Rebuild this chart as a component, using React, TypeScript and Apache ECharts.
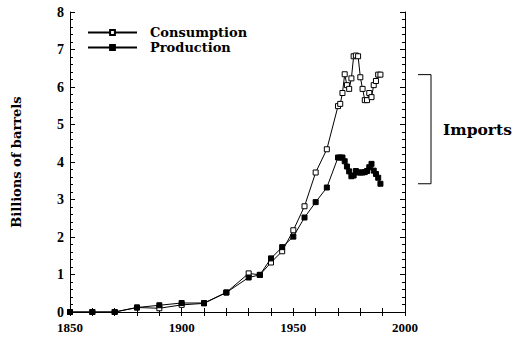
import React, { useEffect, useRef } from "react";
import * as echarts from "echarts";

const years = [
  1850, 1860, 1870, 1880, 1890, 1900, 1910, 1920, 1930, 1935, 1940, 1945, 1950, 1955, 1960, 1965,
  1970, 1971, 1972, 1973, 1974, 1975, 1976, 1977, 1978, 1979, 1980, 1981, 1982, 1983, 1984, 1985,
  1986, 1987, 1988, 1989,
];
const consumption = [
  0, 0, 0, 0.12, 0.1, 0.19, 0.23, 0.52, 1.03, 0.99, 1.32, 1.62, 2.18, 2.82, 3.72, 4.34,
  5.49, 5.55, 5.84, 6.34, 6.05, 5.95, 6.23, 6.82, 6.84, 6.82, 6.26, 5.95, 5.65, 5.65, 5.84, 5.73,
  6.05, 6.16, 6.33, 6.33,
];
const production = [
  0, 0, 0, 0.12, 0.18, 0.24, 0.24, 0.52, 0.92, 0.99, 1.43, 1.73, 2.01, 2.52, 2.93, 3.32,
  4.12, 4.12, 4.12, 4.02, 3.88, 3.75, 3.62, 3.64, 3.76, 3.72, 3.72, 3.72, 3.73, 3.76, 3.86, 3.95,
  3.77, 3.68, 3.58, 3.42,
];
const seriesNames = ["Consumption", "Production"];
const xTickLabels = [1850, 1900, 1950, 2000];
const yTickLabels = [0, 1, 2, 3, 4, 5, 6, 7, 8];
const yTitle = "Billions of barrels";
const bracketLabel = "Imports";

const SERIF = "'DejaVu Serif', serif";
const TICKFONT = "'Liberation Serif', serif";

export default function App() {
  const ref = useRef<HTMLDivElement>(null);
  useEffect(() => {
    document.body.style.margin = "0";
    if (!ref.current) return;
    const chart = echarts.init(ref.current, undefined, { renderer: "svg" });
    const axisLine = { show: true, lineStyle: { color: "#000", width: 1 } };
    const xBase = {
      type: "value" as const,
      min: 1850,
      max: 2000,
      interval: 10,
      axisLine,
      axisTick: { show: true, inside: true, length: 4, lineStyle: { color: "#000" } },
      splitLine: { show: false },
    };
    const yBase = {
      type: "value" as const,
      min: 0,
      max: 8,
      interval: 1,
      axisLine,
      axisTick: { show: true, inside: true, length: 5, lineStyle: { color: "#000" } },
      minorTick: { show: true, splitNumber: 5, length: 3, lineStyle: { color: "#000" } },
      splitLine: { show: false },
      minorSplitLine: { show: false },
    };
    const mk = (vals: number[]) => years.map((y, i) => [y, vals[i]]);
    chart.setOption({
      animation: false,
      grid: { left: 70, right: 115, top: 12, bottom: 40, containLabel: false },
      legend: {
        orient: "vertical",
        left: 87,
        top: 25,
        padding: 0,
        itemWidth: 49,
        itemHeight: 6,
        itemGap: 0,
        data: seriesNames,
        textStyle: {
          fontFamily: SERIF,
          fontWeight: "bold",
          fontSize: 13,
          color: "#000",
          lineHeight: 15,
          padding: [0, 0, 0, 8],
        },
      },
      xAxis: [
        {
          ...xBase,
          position: "bottom",
          axisLabel: {
            show: true,
            margin: 9,
            formatter: (v: number) => (xTickLabels.includes(v) ? String(v) : ""),
            fontFamily: TICKFONT,
            fontWeight: "bold",
            fontSize: 13,
            color: "#000",
          },
        },
        { ...xBase, position: "top", axisLabel: { show: false } },
      ],
      yAxis: [
        {
          ...yBase,
          position: "left",
          name: yTitle,
          nameLocation: "middle",
          nameGap: 47,
          nameRotate: 90,
          nameTextStyle: { fontFamily: SERIF, fontWeight: "bold", fontSize: 13, color: "#000" },
          axisLabel: {
            show: true,
            margin: 6,
            formatter: (v: number) => (yTickLabels.includes(v) ? String(v) : ""),
            fontFamily: TICKFONT,
            fontWeight: "bold",
            fontSize: 14,
            color: "#000",
          },
        },
        { ...yBase, position: "right", axisLabel: { show: false } },
      ],
      series: [
        {
          name: seriesNames[0],
          type: "line",
          data: mk(consumption),
          symbol: "rect",
          symbolSize: 5,
          showAllSymbol: true,
          lineStyle: { color: "#000", width: 1 },
          itemStyle: { color: "#fff", borderColor: "#000", borderWidth: 1 },
          z: 2,
        },
        {
          name: seriesNames[1],
          type: "line",
          data: mk(production),
          symbol: "rect",
          symbolSize: 5,
          showAllSymbol: true,
          lineStyle: { color: "#000", width: 1 },
          itemStyle: { color: "#000", borderColor: "#000", borderWidth: 1 },
          z: 3,
        },
      ],
    });
    const last = years.length - 1;
    const pTop = chart.convertToPixel({ gridIndex: 0 }, [years[last], consumption[last]]) as number[];
    const pBot = chart.convertToPixel({ gridIndex: 0 }, [years[last], production[last]]) as number[];
    const bx = 431;
    chart.setOption({
      graphic: [
        {
          type: "polyline",
          shape: {
            points: [
              [bx - 13, pTop[1]],
              [bx, pTop[1]],
              [bx, pBot[1]],
              [bx - 13, pBot[1]],
            ],
          },
          style: { stroke: "#000", lineWidth: 1, fill: "none" },
        },
        {
          type: "text",
          x: 443,
          y: (pTop[1] + pBot[1]) / 2,
          style: {
            text: bracketLabel,
            fontFamily: SERIF,
            fontWeight: "bold",
            fontSize: 15.5,
            fill: "#000",
            verticalAlign: "middle",
            align: "left",
          },
        },
      ],
    });
    return () => chart.dispose();
  }, []);
  return <div ref={ref} style={{ width: 520, height: 352 }} />;
}
